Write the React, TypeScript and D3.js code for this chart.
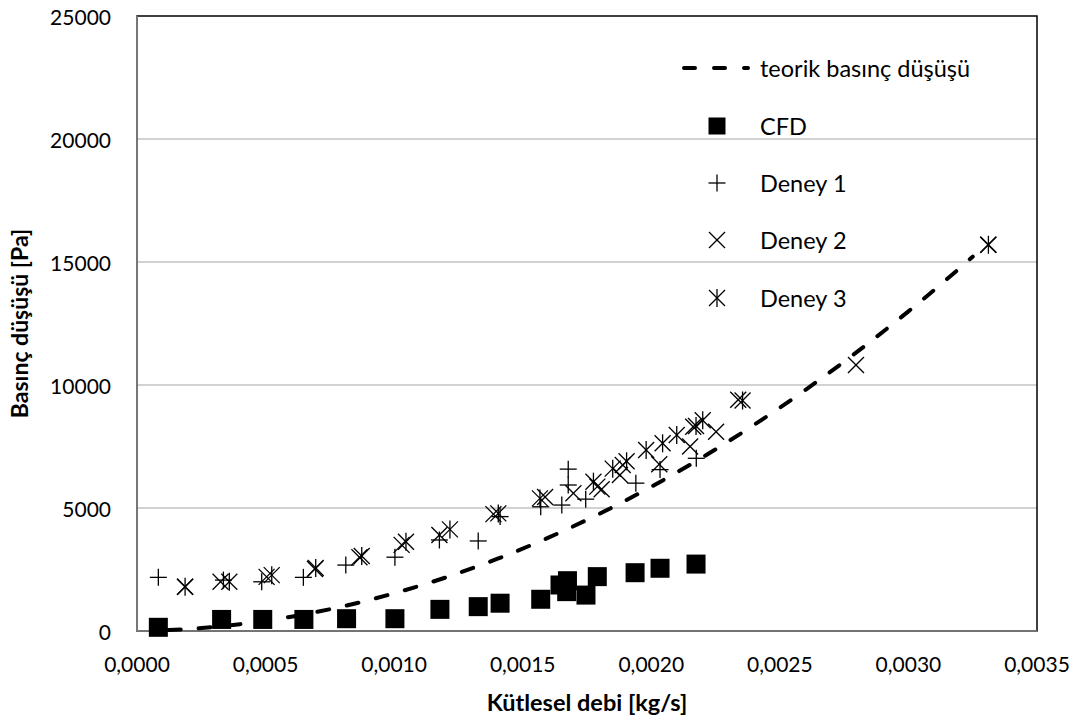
import React from "react";
import * as d3 from "d3";

type Pt = [number, number];

const cfd: Pt[] = [
  [0.000083, 150], [0.000329, 470], [0.000489, 470], [0.000649, 470], [0.000815, 500],
  [0.001003, 500], [0.001178, 880], [0.001327, 990], [0.001412, 1130], [0.00157, 1290],
  [0.001645, 1870], [0.001674, 2045], [0.001671, 1600], [0.001746, 1460], [0.00179, 2210],
  [0.001937, 2370], [0.002034, 2550], [0.002174, 2720],
];

const deney1: Pt[] = [
  [0.000083, 2180], [0.000336, 2070], [0.000485, 2000], [0.000647, 2180], [0.000812, 2680],
  [0.001003, 3000], [0.001176, 3700], [0.001327, 3660], [0.001412, 4650], [0.00157, 5050],
  [0.001652, 5120], [0.001677, 5935], [0.001677, 6580], [0.001745, 5360], [0.00194, 6010],
  [0.002034, 6560], [0.002175, 7020],
];

const deney2: Pt[] = [
  [0.000187, 1800], [0.000325, 2000], [0.000504, 2200], [0.000692, 2520], [0.000865, 3000],
  [0.001029, 3500], [0.001176, 3900], [0.001386, 4750], [0.001587, 5450], [0.001697, 5600],
  [0.00179, 5870], [0.001807, 5760], [0.001878, 6340], [0.001889, 6750], [0.002031, 6780],
  [0.002151, 7500], [0.002163, 8300], [0.002252, 8100], [0.002338, 9400], [0.002796, 10810],
  [0.00331, 15700],
];

const deney3: Pt[] = [
  [0.000187, 1800], [0.000359, 2000], [0.000524, 2270], [0.000695, 2560], [0.000874, 3050],
  [0.001046, 3630], [0.001217, 4130], [0.001405, 4780], [0.001567, 5390], [0.001775, 6070],
  [0.00185, 6600], [0.001904, 6900], [0.00198, 7360], [0.002044, 7630], [0.002099, 7970],
  [0.002174, 8330], [0.0022, 8570], [0.002355, 9370], [0.003311, 15700],
];

const teorik: Pt[] = [
  [0.0001, 27], [0.0002, 82], [0.0004, 277], [0.0006, 583], [0.0008, 1001], [0.001, 1532],
  [0.0012, 2174], [0.0014, 2928], [0.0016, 3795], [0.0018, 4773], [0.002, 5863],
  [0.0022, 7066], [0.0024, 8380], [0.0026, 9806], [0.0028, 11345], [0.003, 12995],
  [0.0032, 14757], [0.00325, 15216],
];

const xTicks = [0, 0.0005, 0.001, 0.0015, 0.002, 0.0025, 0.003, 0.0035];
const yTicks = [0, 5000, 10000, 15000, 20000, 25000];

const legendLabels = ["teorik basınç düşüşü", "CFD", "Deney 1", "Deney 2", "Deney 3"];

const FONT = "Lato, 'Open Sans', sans-serif";

function Marker({ kind, x, y }: { kind: string; x: number; y: number }) {
  const s = 8;
  const sw = 1.3;
  if (kind === "square") {
    return <rect x={x - 9.5} y={y - 9.5} width={19} height={19} fill="#000" />;
  }
  if (kind === "plus") {
    return (
      <g stroke="#000" strokeWidth={sw}>
        <line x1={x - s - 0.5} x2={x + s + 0.5} y1={y} y2={y} />
        <line x1={x} x2={x} y1={y - s - 0.5} y2={y + s + 0.5} />
      </g>
    );
  }
  if (kind === "x") {
    return (
      <g stroke="#000" strokeWidth={sw}>
        <line x1={x - s} x2={x + s} y1={y - s} y2={y + s} />
        <line x1={x - s} x2={x + s} y1={y + s} y2={y - s} />
      </g>
    );
  }
  return (
    <g stroke="#000" strokeWidth={sw}>
      <line x1={x - s} x2={x + s} y1={y - s} y2={y + s} />
      <line x1={x - s} x2={x + s} y1={y + s} y2={y - s} />
      <line x1={x} x2={x} y1={y - s - 1} y2={y + s + 1} />
    </g>
  );
}

export default function App() {
  const W = 1081;
  const H = 724;
  const left = 137, right = 1037, top = 16, bottom = 631;
  const x = d3.scaleLinear().domain([0, 0.0035]).range([left, right]);
  const y = d3.scaleLinear().domain([0, 25000]).range([bottom, top]);
  const fmtX = (v: number) => d3.format(".4f")(v).replace(".", ",");
  const line = d3
    .line<Pt>()
    .x((d) => x(d[0]))
    .y((d) => y(d[1]))
    .curve(d3.curveMonotoneX);

  const legX = 717;
  const legText = 760;
  const legY = [68, 126, 183, 240, 298];

  return (
    <svg
      width={W}
      height={H}
      style={{ position: "absolute", left: 0, top: 0, background: "#fff" }}
      fontFamily={FONT}
    >
      <rect x={0} y={0} width={W} height={H} fill="#fff" />
      {yTicks.slice(1, -1).map((t) => (
        <line key={t} x1={left} x2={right} y1={y(t)} y2={y(t)} stroke="#a6a6a6" strokeWidth={1.2} />
      ))}
      <rect x={left} y={top} width={right - left} height={bottom - top} fill="none" stroke="#000" strokeWidth={1.5} />
      <line x1={left} x2={left} y1={top} y2={bottom} stroke="#868686" strokeWidth={1.6} />
      <line x1={left} x2={right} y1={bottom} y2={bottom} stroke="#868686" strokeWidth={1.6} />

      {yTicks.map((t) => (
        <text key={t} x={111} y={y(t)} textAnchor="end" dominantBaseline="central" fontSize={21} fill="#000">
          {t}
        </text>
      ))}
      {xTicks.map((t) => (
        <text key={t} x={x(t)} y={672} textAnchor="middle" fontSize={21} fill="#000">
          {fmtX(t)}
        </text>
      ))}
      <text x={(left + right) / 2} y={711} textAnchor="middle" fontSize={23.5} fontWeight="bold">
        Kütlesel debi [kg/s]
      </text>
      <text
        transform={`translate(28,${(top + bottom) / 2}) rotate(-90)`}
        textAnchor="middle"
        fontSize={23}
        fontWeight="bold"
      >
        Basınç düşüşü [Pa]
      </text>

      <path
        d={line(teorik) || ""}
        fill="none"
        stroke="#000"
        strokeWidth={4}
        strokeDasharray="12 18"
        strokeDashoffset={-6}
        strokeLinecap="round"
      />
      {cfd.map((d, i) => (
        <Marker key={"c" + i} kind="square" x={x(d[0])} y={y(d[1])} />
      ))}
      {deney1.map((d, i) => (
        <Marker key={"a" + i} kind="plus" x={x(d[0])} y={y(d[1])} />
      ))}
      {deney2.map((d, i) => (
        <Marker key={"b" + i} kind="x" x={x(d[0])} y={y(d[1])} />
      ))}
      {deney3.map((d, i) => (
        <Marker key={"d" + i} kind="star" x={x(d[0])} y={y(d[1])} />
      ))}

      <line x1={684} x2={748} y1={legY[0]} y2={legY[0]} stroke="#000" strokeWidth={4} strokeDasharray="11 19" strokeLinecap="round" />
      <rect x={legX - 8.5} y={legY[1] - 8.5} width={17} height={17} fill="#000" />
      <Marker kind="plus" x={legX} y={legY[2]} />
      <Marker kind="x" x={legX} y={legY[3]} />
      <Marker kind="star" x={legX} y={legY[4]} />
      {legendLabels.map((l, i) => (
        <text key={l} x={legText} y={legY[i]} dominantBaseline="central" fontSize={23.5} fill="#000">
          {l}
        </text>
      ))}
    </svg>
  );
}
